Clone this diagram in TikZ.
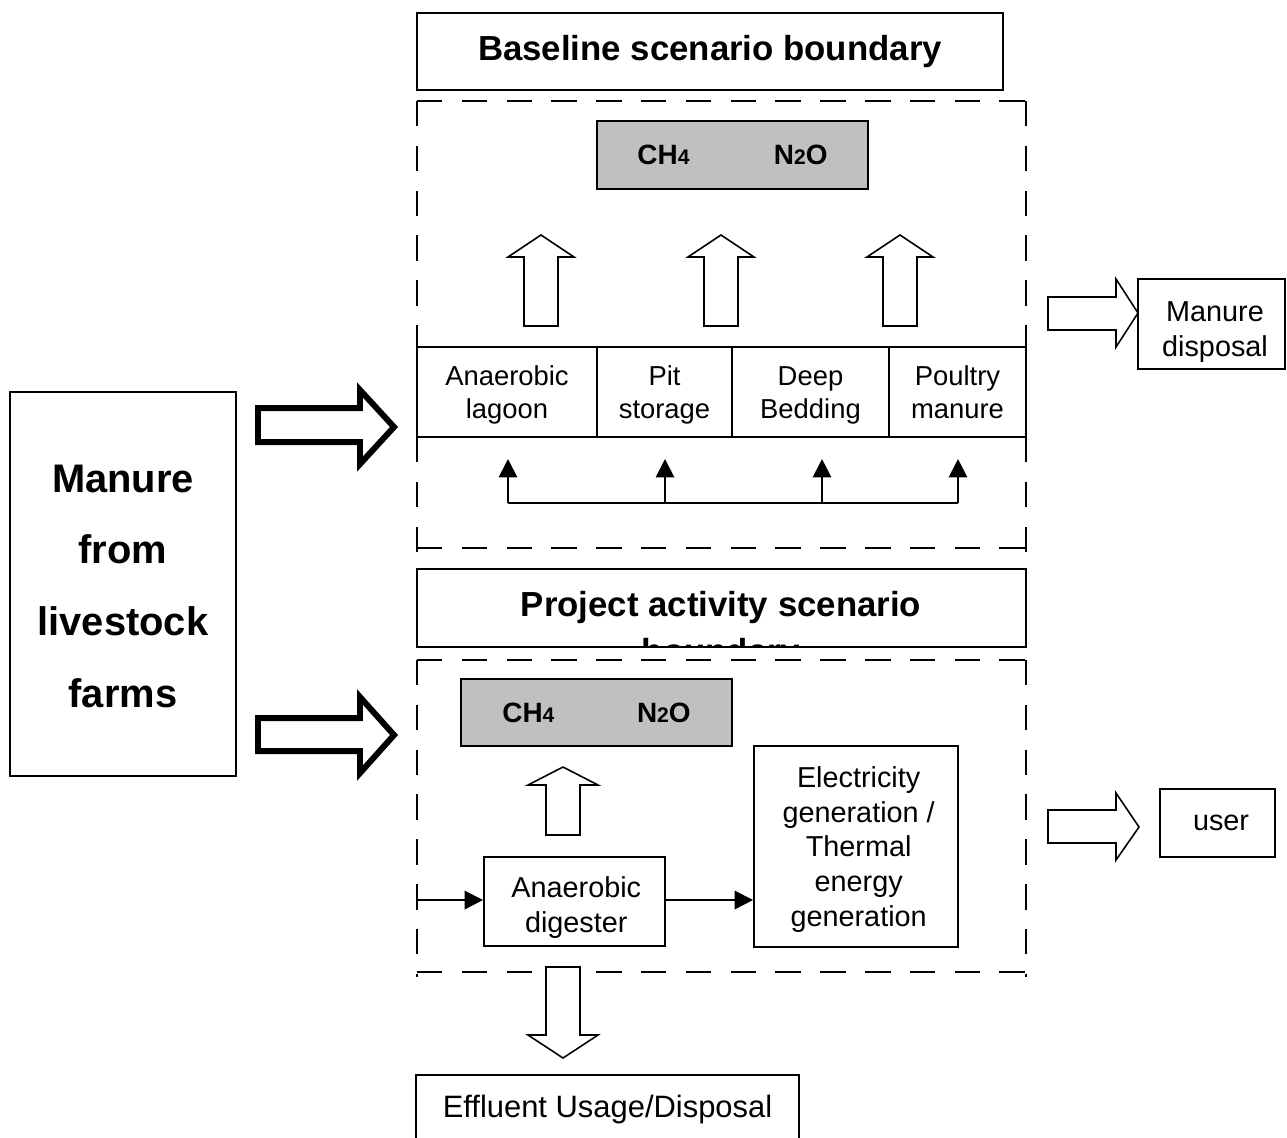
\documentclass[tikz,border=0pt]{standalone}
\usepackage{fontspec}
\setmainfont{Liberation Sans}
\usetikzlibrary{arrows.meta}
\definecolor{gasgrey}{HTML}{C0C0C0}
\newcommand\myTitleFont{\fontsize{19.8}{26.6}\selectfont\bfseries}
\newcommand\myBigFont{\fontsize{22.7}{40.8}\selectfont\bfseries}
\newcommand\myTextFont{\fontsize{16.4}{19.8}\selectfont}
\newcommand\myRowFont{\fontsize{15.6}{18.7}\selectfont}
\newcommand\myEffFont{\fontsize{17.6}{20}\selectfont}
\newcommand\myGasFont{\fontsize{15.9}{18}\selectfont\bfseries}
\newcommand\mySub[1]{{\fontsize{12}{12}\selectfont #1}}
\tikzset{
  solidbox/.style={draw, line width=1.1pt, inner sep=0pt, align=center},
  boxsize/.style 2 args={minimum width=#1, minimum height=#2},
  intext/.style={align=center, inner sep=0pt},
  dashline/.style={line width=1.1pt, dash pattern=on 14.5pt off 11pt},
  hollow/.style={draw, line width=0.9pt, fill=white, line join=miter},
  thickhollow/.style={draw, line width=3.4pt, line join=miter, miter limit=10},
  tipline/.style={line width=1.1pt, -{Triangle[length=10.5pt,width=10.5pt]}},
  gasbox/.style={solidbox, fill=gasgrey, font=\myGasFont},
}
\begin{document}
\begin{tikzpicture}[x=0.02cm, y=-0.02cm]
\clip (0,0) rectangle (1287,1137);
\fill[white] (0,0) rectangle (1287,1137);

% ---------- title boxes ----------
\node[solidbox, boxsize={11.72cm}{1.54cm}, font=\myTitleFont] (basetitle) at (710,51.5) {Baseline scenario boundary};
\node[solidbox, boxsize={12.18cm}{1.56cm}] (projtitle) at (721.5,608) {};
\begin{scope}
  \clip (projtitle.south west) rectangle (projtitle.north east);
  \node[font=\myTitleFont, intext] (projtext) at (721,631) {Project activity scenario\\boundary};
\end{scope}

% ---------- upper dashed boundary ----------
\draw[dashline] (417,101) -- (1026,101);
\draw[dashline] (417,101) -- (417,347);
\draw[dashline] (1026,101) -- (1026,347);
\draw[dashline] (417,437) -- (417,553);
\draw[dashline] (1026,437) -- (1026,553);
\draw[dashline] (417,548) -- (1026,548);

% ---------- lower dashed boundary ----------
\draw[dashline] (417,660) -- (1026,660);
\draw[dashline] (417,660) -- (417,977);
\draw[dashline] (1026,660) -- (1026,977);
\draw[dashline] (417,972) -- (1026,972);

% ---------- baseline scenario ----------
\node[gasbox, boxsize={5.42cm}{1.36cm}] (gasA) at (732.5,155) {CH\mySub{4}\hspace{48pt}N\mySub{2}O};

\foreach \cx in {541,721,900}{
  \draw[hollow] (\cx-17,326) -- (\cx-17,257) -- (\cx-33,257) -- (\cx,235)
     -- (\cx+33,257) -- (\cx+17,257) -- (\cx+17,326) -- cycle;
}

\node[solidbox, boxsize={3.6cm}{1.8cm}] (lagoon) at (507,392) {};
\node[solidbox, boxsize={2.7cm}{1.8cm}] (pit) at (664.5,392) {};
\node[solidbox, boxsize={3.14cm}{1.8cm}] (deep) at (810.5,392) {};
\node[solidbox, boxsize={2.74cm}{1.8cm}] (poultry) at (957.5,392) {};
\node[intext, font=\myRowFont, yshift=-1.8pt] (lagoontxt) at (lagoon) {Anaerobic\strut\\lagoon\strut};
\node[intext, font=\myRowFont, yshift=-1.8pt] (pittxt) at (pit) {Pit\strut\\storage\strut};
\node[intext, font=\myRowFont, yshift=-1.8pt] (deeptxt) at (deep) {Deep\strut\\Bedding\strut};
\node[intext, font=\myRowFont, yshift=-1.8pt] (poultrytxt) at (poultry) {Poultry\strut\\manure\strut};

\coordinate (b1) at (508,503);
\coordinate (b2) at (665,503);
\coordinate (b3) at (822,503);
\coordinate (b4) at (958,503);
\coordinate (t1) at (508,459);
\coordinate (t2) at (665,459);
\coordinate (t3) at (822,459);
\coordinate (t4) at (958,459);
\draw[line width=1.1pt] (b1) -- (b4);
\draw[tipline] (b1) -- (t1);
\draw[tipline] (b2) -- (t2);
\draw[tipline] (b3) -- (t3);
\draw[tipline] (b4) -- (t4);

% manure disposal
\draw[hollow] (1048,297) -- (1116,297) -- (1116,279) -- (1138,313) -- (1116,347) -- (1116,330) -- (1048,330) -- cycle;
\node[solidbox, boxsize={2.94cm}{1.8cm}] (disposal) at (1211.5,324) {};
\node[intext, font=\myTextFont, yshift=-4.6pt, xshift=2pt] (disposaltxt) at (disposal) {Manure\\disposal};

% ---------- left source ----------
\node[solidbox, boxsize={4.52cm}{7.68cm}] (farms) at (123,584) {};
\node[intext, font=\myBigFont, yshift=-1.2pt] (farmstxt) at (farms) {Manure\\from\\livestock\\farms};
\draw[thickhollow] (258,408) -- (360,408) -- (360,390) -- (394,427) -- (360,464) -- (360,442) -- (258,442) -- cycle;
\draw[thickhollow] (258,718) -- (360,718) -- (360,697) -- (394,735) -- (360,773) -- (360,751) -- (258,751) -- cycle;

% ---------- project scenario ----------
\node[gasbox, boxsize={5.42cm}{1.34cm}] (gasB) at (596.5,712.5) {CH\mySub{4}\hspace{47pt}N\mySub{2}O};
\draw[hollow] (546,835) -- (546,785) -- (528,785) -- (563,767) -- (598,785) -- (580,785) -- (580,835) -- cycle;

\node[solidbox, boxsize={3.62cm}{1.78cm}] (digester) at (574.5,901.5) {};
\node[intext, font=\myTextFont, yshift=-3.6pt, xshift=1pt] (digestertxt) at (digester) {Anaerobic\\digester};
\node[solidbox, boxsize={4.08cm}{4.02cm}] (elec) at (856,846.5) {};
\node[intext, font=\myTextFont, yshift=-1.7pt, xshift=1.5pt] (electxt) at (elec) {Electricity\\generation /\\Thermal\\energy\\generation};

\coordinate (inlet) at (417,900);
\draw[tipline] (inlet) -- (inlet -| digester.west);
\draw[tipline] (digester.east |- inlet) -- (elec.west |- inlet);

% user
\draw[hollow] (1048,810) -- (1116,810) -- (1116,793) -- (1139,827) -- (1116,860) -- (1116,843) -- (1048,843) -- cycle;
\node[solidbox, boxsize={2.3cm}{1.36cm}, font=\myTextFont] (user) at (1217.5,823) {\hspace{4pt}user};

% effluent
\draw[hollow] (546,967) -- (580,967) -- (580,1035) -- (598,1035) -- (563,1058) -- (528,1035) -- (546,1035) -- cycle;
\node[solidbox, boxsize={7.66cm}{1.32cm}] (effluent) at (607.5,1108) {};
\node[intext, font=\myEffFont, yshift=-1pt] (effluenttxt) at (effluent) {Effluent Usage/Disposal};
\end{tikzpicture}
\end{document}
